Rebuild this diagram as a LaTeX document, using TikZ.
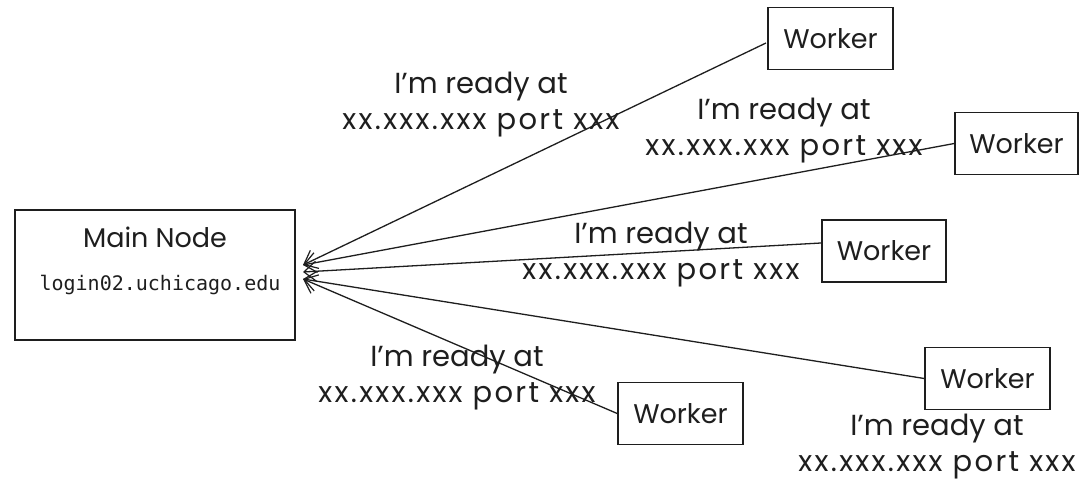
\documentclass[tikz,border=0pt]{standalone}
\usepackage{fontspec}
\setmainfont{Poppins}
\setmonofont{DejaVu Sans Mono}
\usetikzlibrary{arrows.meta}
\definecolor{ink}{HTML}{1E1E1E}
\newcommand{\readylbl}{I'm ready at\\{\addfontfeature{LetterSpace=8}xx.xxx.xxx port xxx}}
\tikzset{
  box/.style={draw=ink, line width=1.6pt, minimum width=#1, minimum height=62pt, inner sep=0pt, text=ink,
    font=\fontsize{27}{32}\selectfont},
  box/.default=125pt,
  lbl/.style={text=ink, align=center, font=\fontsize{29}{36}\selectfont, inner sep=0pt},
  arr/.style={draw=ink, line width=1.3pt, -{Straight Barb[length=12pt,width=20pt,line width=1.2pt]}},
}
\begin{document}
\begin{tikzpicture}[x=1pt,y=-1pt]
\useasboundingbox (0,0) rectangle (1085,484);
\fill[white] (0,0) rectangle (1085,484);
% main node
\node[box=280pt, minimum height=130pt] (main) at (155,275) {};
\node[text=ink, font=\fontsize{27}{32}\selectfont, inner sep=0pt] (mainlbl) at (155,237) {Main Node};
\node[text=ink, font=\ttfamily\fontsize{20}{24}\selectfont, inner sep=0pt] (host) at (160,285) {login02.uchicago.edu};
% workers
\node[box] (w1) at (830.5,38.5) {Worker};
\node[box, minimum width=123pt] (w2) at (1016.5,143.5) {Worker};
\node[box, minimum width=124pt] (w3) at (884,251) {Worker};
\node[box] (w4) at (987.5,378.5) {Worker};
\node[box] (w5) at (680.5,413.5) {Worker};
% arrow targets
\coordinate (ta) at (303,265);
\coordinate (tb) at (303,272);
\coordinate (tc) at (303,279);
\coordinate (s1) at (766,43);
\coordinate (s3) at (821,243);
\draw[arr] (s1) -- (ta);
\draw[arr] (w2.west) -- (ta);
\draw[arr] (s3) -- (tb);
\draw[arr] (w4.west) -- (tc);
\draw[arr] (w5.west) -- (tc);
% labels
\node[lbl] (l1) at (481,105) {\readylbl};
\node[lbl] (l2) at (784,131) {\readylbl};
\node[lbl] (l3) at (661,255) {\readylbl};
\node[lbl] (l4) at (457,378) {\readylbl};
\node[lbl] (l5) at (937,447) {\readylbl};
\end{tikzpicture}
\end{document}
